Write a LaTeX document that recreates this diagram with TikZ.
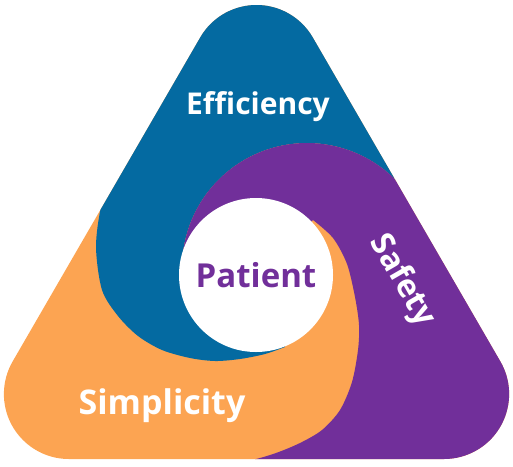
\documentclass[tikz,border=0pt]{standalone}
\usepackage{fontspec}
\setmainfont{Open Sans}
\definecolor{effblue}{RGB}{4,106,161}
\definecolor{safpurple}{RGB}{113,47,154}
\definecolor{simporange}{RGB}{252,164,82}

\begin{document}
\begin{tikzpicture} [x=1pt, y=-1pt,
  lbl/.style={text=white, font=\bfseries\fontsize{30}{30}\selectfont, inner sep=0pt}]
\useasboundingbox (0,0) rectangle (513,466);

\begin{scope}
\clip 
(200.2,37.5) arc[start angle=210, end angle=330, radius=65]
-- (500.4,361.5) arc[start angle=-30, end angle=90, radius=65]
-- (68.9,459) arc[start angle=90, end angle=210, radius=65] -- cycle;

\fill [simporange] (-100,-100) rectangle (700,600);

% blue part, top
\fill [effblue] 
plot [smooth] coordinates {(112,178) (101,207) (96,247) (102,290) (118,316) (138,336) (162,350) (190,358) (215,361) (240,359) (265,354) (285,347)}
-- (256,275) -- (182.5,278.9) arc[start angle=175, end angle=335, radius=125]
-- (600,-100) -- (-100,-100) -- cycle;

% purple part, right
\fill [safpurple] 
(420.3,215.2) arc[start angle=335, end angle=175, radius=125] -- (256,275)
-- plot [smooth] coordinates {(313,220) (333,238) (347,264) (355,297) (359,325) (358,350) (352,382) (340,410) (322,430) (300,443) (276,453) (252,460) (222,465)}
-- (222,600) -- (700,600) -- (700,215.2) -- cycle;
\end{scope}

\node [circle, fill=white, minimum size=154pt, inner sep=0pt, text=safpurple, font=\bfseries\fontsize{33}{33}\selectfont] (patient) at (256,275) {Patient};

\node [lbl, anchor=base] (eff) at (258,114) {Efficiency};
\node [lbl, anchor=base, font=\bfseries\fontsize{34}{34}\selectfont] (simp) at (162,414) {Simplicity};
\node [lbl, rotate=-60, font=\bfseries\fontsize{32}{32}\selectfont] (saf) at (402,281) {Safety};

\end{tikzpicture}
\end{document}
